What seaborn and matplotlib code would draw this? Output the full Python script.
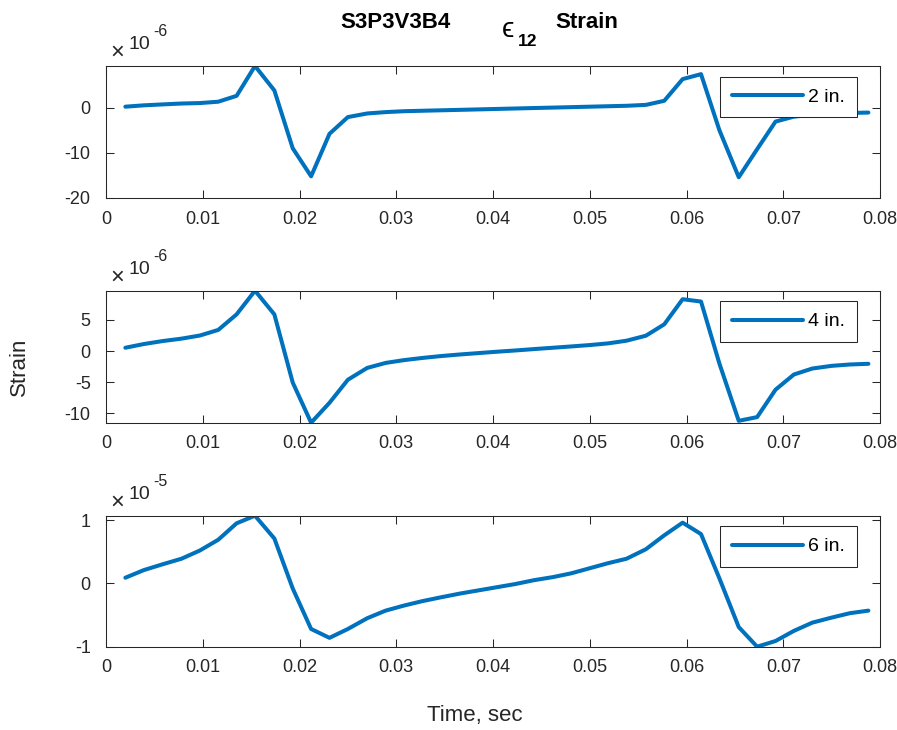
import matplotlib
matplotlib.use("Agg")
import matplotlib.pyplot as plt
import pandas as pd
import seaborn as sns

# Sample times (s)
time_s = [0.0020, 0.0039, 0.0058, 0.0078, 0.0097, 0.0116, 0.0135, 0.0154,
          0.0174, 0.0193, 0.0212, 0.0231, 0.0250, 0.0270, 0.0289, 0.0308,
          0.0327, 0.0346, 0.0366, 0.0385, 0.0404, 0.0423, 0.0442, 0.0462,
          0.0481, 0.0500, 0.0519, 0.0538, 0.0558, 0.0577, 0.0596, 0.0615,
          0.0634, 0.0654, 0.0673, 0.0692, 0.0711, 0.0730, 0.0750, 0.0769,
          0.0788]

# Strain at 2 in. (x 1e-6)
strain_2in = [0.2, 0.5, 0.7, 0.9, 1.0, 1.3, 2.6, 9.2, 3.8, -9.0, -15.2,
              -5.8, -2.1, -1.3, -1.0, -0.8, -0.7, -0.6, -0.5, -0.4, -0.3,
              -0.2, -0.1, 0.0, 0.1, 0.2, 0.3, 0.4, 0.6, 1.5, 6.3, 7.4,
              -5.0, -15.4, -9.2, -3.1, -2.0, -1.6, -1.4, -1.2, -1.1]

# Strain at 4 in. (x 1e-6)
strain_4in = [0.54, 1.13, 1.6, 2.0, 2.5, 3.4, 5.9, 9.7, 5.9, -5.05, -11.5,
              -8.3, -4.6, -2.7, -1.9, -1.45, -1.1, -0.8, -0.54, -0.32, -0.1,
              0.1, 0.32, 0.54, 0.75, 0.97, 1.24, 1.67, 2.47, 4.3, 8.33, 7.96,
              -2.0, -11.2, -10.6, -6.2, -3.76, -2.8, -2.37, -2.15, -2.04]

# Strain at 6 in. (x 1e-5)
strain_6in = [0.09, 0.21, 0.30, 0.39, 0.52, 0.69, 0.95, 1.07, 0.71, -0.08,
              -0.72, -0.86, -0.72, -0.55, -0.43, -0.35, -0.28, -0.22, -0.16,
              -0.11, -0.06, -0.01, 0.05, 0.10, 0.16, 0.24, 0.32, 0.39, 0.54,
              0.76, 0.96, 0.78, 0.08, -0.69, -1.0, -0.91, -0.75, -0.62,
              -0.54, -0.47, -0.43]

labels = ["2 in.", "4 in.", "6 in."]
exponents = ["-6", "-6", "-5"]
y_ticks = [[-20, -10, 0], [-10, -5, 0, 5], [-1, 0, 1]]
y_limits = [(-20, max(strain_2in)),
            (min(strain_4in), max(strain_4in)),
            (min(strain_6in), max(strain_6in))]
x_ticks = [0, 0.01, 0.02, 0.03, 0.04, 0.05, 0.06, 0.07, 0.08]
x_ticklabels = ["0", "0.01", "0.02", "0.03", "0.04", "0.05", "0.06", "0.07", "0.08"]

sns.set_theme(style="white")
plt.rcParams["font.family"] = ["Liberation Sans", "DejaVu Sans"]

W, H = 897, 730
AX_COLOR = "#262626"
LINE_COLOR = "#0072BD"

fig = plt.figure(figsize=(W / 100, H / 100), dpi=100)


def fx(x):
    return x / W


def fy(y):
    return 1 - y / H


# axes boxes in pixels: (top, bottom)
boxes = [(66, 198), (290.7, 422.7), (515.7, 646.7)]
left_px, right_px = 106, 880

series = [strain_2in, strain_4in, strain_6in]
for i, (top, bottom) in enumerate(boxes):
    ax = fig.add_axes([fx(left_px), fy(bottom), (right_px - left_px) / W,
                       (bottom - top) / H])
    df = pd.DataFrame({"time": time_s, "strain": series[i]})
    sns.lineplot(data=df, x="time", y="strain", ax=ax, color=LINE_COLOR,
                 linewidth=2.9, label=labels[i])
    ax.set_xlim(0, 0.08)
    ax.set_ylim(*y_limits[i])
    ax.set_xticks(x_ticks)
    ax.set_xticklabels(x_ticklabels)
    ax.set_yticks(y_ticks[i])
    ax.set_yticklabels([str(v) for v in y_ticks[i]])
    ax.set_xlabel("")
    ax.set_ylabel("")
    ax.tick_params(direction="in", length=5.5, width=0.75, colors=AX_COLOR,
                   labelsize=13, top=True, right=True,
                   bottom=True, left=True)
    ax.tick_params(axis="y", pad=11)
    ax.tick_params(axis="x", pad=9)
    for sp in ax.spines.values():
        sp.set_visible(True)
        sp.set_color(AX_COLOR)
        sp.set_linewidth(0.75)
    leg_top = 1 - 10.5 / (bottom - top)
    leg = ax.legend(loc="upper left",
                    bbox_to_anchor=((720 - left_px) / (right_px - left_px), leg_top),
                    frameon=True, fancybox=False, edgecolor=AX_COLOR,
                    framealpha=1, borderaxespad=0, handlelength=3.65,
                    handletextpad=0.3, borderpad=0.6, fontsize=14)
    leg.get_frame().set_linewidth(0.75)
    for t in leg.get_texts():
        t.set_color("black")

    # exponent multiplier above the y axis
    fig.text(fx(117.5), fy(top - 13.5), "\u00d7", fontsize=17, color=AX_COLOR,
             ha="center", va="center")
    fig.text(fx(129), fy(top - 17), "10", fontsize=14, color=AX_COLOR,
             ha="left", va="baseline")
    fig.text(fx(153), fy(top - 30), exponents[i], fontsize=11.5,
             color=AX_COLOR, ha="left", va="baseline")

# title
fig.text(fx(340), fy(28), "S3P3V3B4", fontsize=16, fontweight="bold",
         color="black", ha="left", va="baseline")
fig.text(fx(502), fy(37), "\u03f5", fontsize=20,
         color="black", ha="left", va="baseline")
fig.text(fx(518), fy(46), "12", fontsize=12.5, fontweight="bold",
         color="black", ha="left", va="baseline")
fig.text(fx(555), fy(28), "Strain", fontsize=16, fontweight="bold",
         color="black", ha="left", va="baseline")

# shared axis labels
fig.text(fx(19), fy(367), "Strain", fontsize=16, color=AX_COLOR,
         rotation=90, ha="center", va="center")
fig.text(fx(475), fy(715), "Time, sec", fontsize=16, color=AX_COLOR,
         ha="center", va="center")

fig.savefig("out.png", dpi=100, facecolor="white")
